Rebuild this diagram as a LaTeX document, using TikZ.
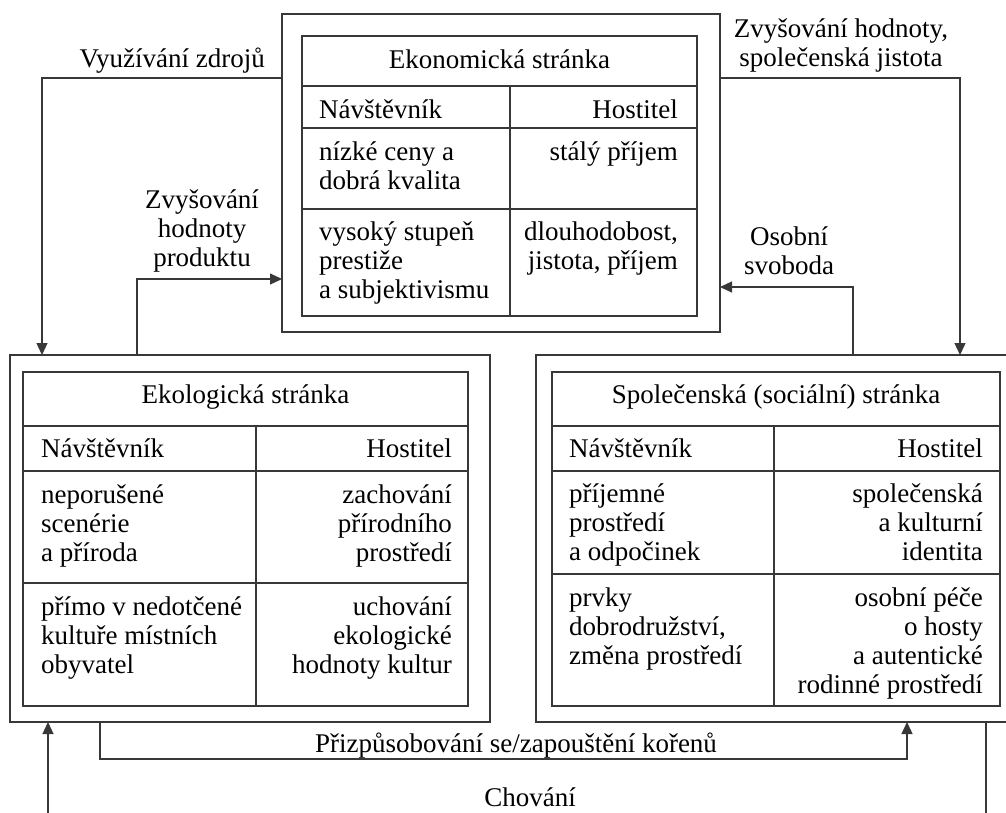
\documentclass[tikz,border=0pt]{standalone}
\usepackage{fontspec}
\setmainfont{Liberation Serif}
\usetikzlibrary{arrows.meta}
\newcommand{\celL}[1]{\begin{tabular}[t]{@{}l@{}}#1\end{tabular}}
\newcommand{\celR}[1]{\begin{tabular}[t]{@{}r@{}}#1\end{tabular}}
\newcommand{\celC}[1]{\begin{tabular}[t]{@{}c@{}}#1\end{tabular}}
\begin{document}
\begin{tikzpicture}[x=1pt,y=-1pt,
  ln/.style={draw=black!78, line width=1.3pt},
  arr/.style={ln, -{Triangle[length=12pt,width=11pt]}},
  frame/.style={ln, rectangle, inner sep=0pt, outer sep=0pt, anchor=north west},
  txt/.style={font=\fontsize{27}{29}\selectfont, inner sep=0pt, text=black},
  lt/.style={txt, anchor=base west},
  rt/.style={txt, anchor=base east},
  ct/.style={txt, anchor=base}
]
\useasboundingbox (0,0) rectangle (1006,812);
\clip (0,0) rectangle (1006,812);

% ---------- outer frames ----------
\node[frame, minimum width=438pt, minimum height=318pt] (econ) at (282,14) {};
\node[frame, minimum width=480pt, minimum height=367pt] (eco) at (10,355) {};
\node[frame, minimum width=484pt, minimum height=367pt] (soc) at (536,355) {};

% ---------- Economic table ----------
\draw[ln] (302,36) rectangle (697,316);
\draw[ln] (302,86) -- (697,86);
\draw[ln] (302,128) -- (697,128);
\draw[ln] (302,209) -- (697,209);
\draw[ln] (510,86) -- (510,316);
\node[ct] (econT) at (499.5,68) {Ekonomická stránka};
\node[lt] (econV) at (319,118) {Návštěvník};
\node[rt] (econH) at (678,118) {Hostitel};
\node[lt] (econV1) at (319,160) {\celL{nízké ceny a\\dobrá kvalita}};
\node[rt] (econH1) at (678,160) {\celR{stálý příjem}};
\node[lt] (econV2) at (319,240) {\celL{vysoký stupeň\\prestiže\\a subjektivismu}};
\node[rt] (econH2) at (678,240) {\celR{dlouhodobost,\\jistota, příjem}};

% ---------- Ecological table ----------
\draw[ln] (23,372) rectangle (468,706);
\draw[ln] (23,426) -- (468,426);
\draw[ln] (23,471) -- (468,471);
\draw[ln] (23,583) -- (468,583);
\draw[ln] (256,426) -- (256,706);
\node[ct] (ecoT) at (245.5,403) {Ekologická stránka};
\node[lt] (ecoV) at (41,457) {Návštěvník};
\node[rt] (ecoH) at (452,457) {Hostitel};
\node[lt] (ecoV1) at (41,503) {\celL{neporušené\\scenérie\\a příroda}};
\node[rt] (ecoH1) at (452,503) {\celR{zachování\\přírodního\\prostředí}};
\node[lt] (ecoV2) at (41,615) {\celL{přímo v nedotčené\\kultuře místních\\obyvatel}};
\node[rt] (ecoH2) at (452,615) {\celR{uchování\\ekologické\\hodnoty kultur}};

% ---------- Social table ----------
\draw[ln] (552,372) rectangle (1000,706);
\draw[ln] (552,426) -- (1000,426);
\draw[ln] (552,471) -- (1000,471);
\draw[ln] (552,574) -- (1000,574);
\draw[ln] (774,426) -- (774,706);
\node[ct] (socT) at (776,403) {Společenská (sociální) stránka};
\node[lt] (socV) at (569,457) {Návštěvník};
\node[rt] (socH) at (983,457) {Hostitel};
\node[lt] (socV1) at (569,502) {\celL{příjemné\\prostředí\\a odpočinek}};
\node[rt] (socH1) at (983,502) {\celR{společenská\\a kulturní\\identita}};
\node[lt] (socV2) at (569,606) {\celL{prvky\\dobrodružství,\\změna prostředí}};
\node[rt] (socH2) at (983,606) {\celR{osobní péče\\o hosty\\a autentické\\rodinné prostředí}};

% ---------- connectors ----------
\draw[arr] (econ.west |- 0,78) -| (eco.north -| 42,0);
\node[txt, anchor=base east] (lblZdroj) at (265,67) {Využívání zdrojů};

\draw[arr] (eco.north -| 137,0) |- (econ.west |- 0,279);
\node[ct] (lblProd) at (202,208) {\celC{Zvyšování\\hodnoty\\produktu}};

\draw[arr] (econ.east |- 0,78) -| (soc.north -| 960,0);
\node[ct] (lblJist) at (841,37) {\celC{Zvyšování hodnoty,\\společenská jistota}};

\draw[arr] (soc.north -| 853,0) |- (econ.east |- 0,287);
\node[ct] (lblSvob) at (789,245) {\celC{Osobní\\svoboda}};

\draw[arr] (eco.south -| 100,0) -- (100,759) -- (907,759) -- (soc.south -| 907,0);
\node[ct] (lblPriz) at (516,752) {Přizpůsobování se/zapouštění kořenů};

\coordinate (chL) at (48,816);
\coordinate (chR) at (986,816);
\draw[arr] (chL) -- (eco.south -| chL);
\draw[ln] (soc.south -| chR) -- (chR);
\node[ct] (lblChov) at (530,806) {Chování};
\end{tikzpicture}
\end{document}
